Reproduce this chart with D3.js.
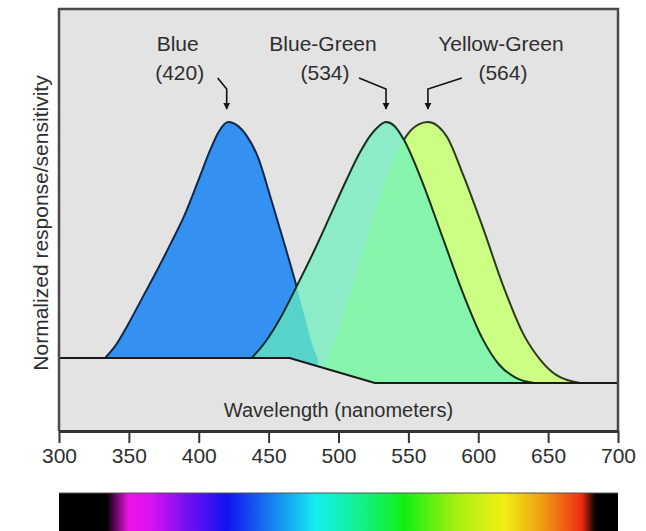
<!DOCTYPE html>
<html lang="en">
<head>
<meta charset="utf-8">
<title>Cone sensitivity</title>
<script src="https://cdn.jsdelivr.net/npm/d3@7"></script>
<style>
  body { margin: 0; background: #fff; }
  svg text { font-family: "Liberation Sans", Arial, sans-serif; fill: #2e2e2e; }
</style>
</head>
<body>
<script>
// cones and their peak wavelengths (nm)
const coneNames = ['Blue', 'Blue-Green', 'Yellow-Green'];
const conePeaks = [420, 534, 564];

// curves: [wavelength nm, normalized response]
const blueCurve = [[333,0.096],[340,0.14],[350,0.23],[360,0.33],[370,0.43],[380,0.535],[390,0.645],
  [400,0.78],[408,0.89],[414,0.96],[421,1.0],[428,0.985],[434,0.95],[442,0.87],[452,0.70],[462,0.52],
  [470,0.37],[477,0.23],[481,0.15],[485,0.096]];
const blueGreenCurve = [[438,0.096],[448,0.16],[458,0.245],[470,0.37],[482,0.50],[494,0.64],[505,0.77],
  [515,0.88],[523,0.95],[529,0.985],[534,1.0],[540,0.985],[547,0.93],[560,0.77],[575,0.55],[589,0.345],
  [603,0.17],[615,0.07],[627,0.02],[640,0]];
const yellowGreenCurve = [[490,0.057],[500,0.2],[510,0.37],[520,0.55],[530,0.72],[540,0.86],[549,0.95],
  [557,0.99],[564,1.0],[571,0.985],[578,0.94],[589,0.80],[603,0.60],[618,0.37],[632,0.19],[645,0.085],
  [656,0.03],[673,0]];
// the black base line under the curves
const baseline = [[300,0.096],[465,0.096],[526,0],[700,0]];

const xTicks = [300, 350, 400, 450, 500, 550, 600, 650, 700];

// visible spectrum strip: [wavelength, colour]
const spectrum = [[300,'#000'],[334,'#000'],[350,'#f012e6'],[366,'#d812f2'],[390,'#7a10f2'],[420,'#1212f0'],
  [450,'#1678f0'],[484,'#12f0f0'],[515,'#12f08c'],[548,'#12f012'],[585,'#a8f012'],[618,'#f0f012'],
  [645,'#f0a012'],[674,'#f02c12'],[684,'#000'],[700,'#000']];

const W = 646, H = 531;
const frame = {left: 59, right: 618, top: 9, bottom: 431};

const x = d3.scaleLinear().domain([300, 700]).range([frame.left, frame.right]);
const y = d3.scaleLinear().domain([0, 1]).range([383, 122]);
const baseAt = d3.scaleLinear().domain(baseline.map(d => d[0])).range(baseline.map(d => d[1]));

const svg = d3.select('body').append('svg')
    .attr('width', W).attr('height', H);

const defs = svg.append('defs');

const topLine = d3.line()
    .x(d => x(d[0]))
    .y(d => y(d[1]))
    .curve(d3.curveMonotoneX);

// curve on top, then back along the base line
function areaPath(pts) {
  const w0 = pts[0][0], w1 = pts[pts.length - 1][0];
  const back = [[w1, baseAt(w1)]]
      .concat(baseline.filter(b => b[0] > w0 && b[0] < w1).reverse())
      .concat([[w0, baseAt(w0)]]);
  return topLine(pts) + back.map(b => 'L' + x(b[0]) + ',' + y(b[1])).join('') + 'Z';
}

// plot background
svg.append('rect')
    .attr('x', frame.left).attr('y', frame.top)
    .attr('width', frame.right - frame.left).attr('height', frame.bottom - frame.top)
    .attr('fill', '#e3e3e3');

// mask so outlines under the blue-green fill disappear
const mask = defs.append('mask').attr('id', 'outsideBG')
    .attr('maskUnits', 'userSpaceOnUse').attr('x', 0).attr('y', 0).attr('width', W).attr('height', H);
mask.append('rect').attr('width', W).attr('height', H).attr('fill', '#fff');
mask.append('path').attr('d', areaPath(blueGreenCurve)).attr('fill', '#000');

// blue
svg.append('path').attr('d', areaPath(blueCurve)).attr('fill', '#3491f2');
svg.append('path').attr('d', topLine(blueCurve))
    .attr('fill', 'none').attr('stroke', '#10284a').attr('stroke-width', 2)
    .attr('mask', 'url(#outsideBG)');

// yellow-green
svg.append('path').attr('d', areaPath(yellowGreenCurve)).attr('fill', '#ccfe84');
svg.append('path').attr('d', topLine(yellowGreenCurve))
    .attr('fill', 'none').attr('stroke', '#2e3a1c').attr('stroke-width', 2)
    .attr('mask', 'url(#outsideBG)');

// blue-green, see-through
svg.append('path').attr('d', areaPath(blueGreenCurve))
    .attr('fill', '#68f0bc').attr('fill-opacity', 0.7);
svg.append('path').attr('d', topLine(blueGreenCurve))
    .attr('fill', 'none').attr('stroke', '#12301c').attr('stroke-width', 2);

// base line
svg.append('path')
    .attr('d', d3.line().x(d => x(d[0])).y(d => y(d[1]))(baseline))
    .attr('fill', 'none').attr('stroke', '#1a1a1a').attr('stroke-width', 2);

// frame
svg.append('path')
    .attr('d', `M${frame.left},${frame.bottom}V${frame.top}H${frame.right}V${frame.bottom}`)
    .attr('fill', 'none').attr('stroke', '#4a4a4a').attr('stroke-width', 2.5);

// x axis
const xAxis = svg.append('g')
    .attr('transform', `translate(0,${frame.bottom})`)
    .call(d3.axisBottom(x).tickValues(xTicks).tickSize(12).tickPadding(5).tickSizeOuter(0));
xAxis.select('.domain').attr('stroke', '#333').attr('stroke-width', 3);
xAxis.selectAll('.tick line').attr('stroke', '#333').attr('stroke-width', 2);
xAxis.selectAll('.tick text').attr('font-size', 21).attr('fill', '#2e2e2e')
    .style('font-family', '"Liberation Sans", Arial, sans-serif');

svg.append('text')
    .attr('x', (frame.left + frame.right) / 2).attr('y', 417)
    .attr('text-anchor', 'middle').attr('font-size', 20)
    .text('Wavelength (nanometers)');

svg.append('text')
    .attr('transform', 'translate(48,223) rotate(-90)')
    .attr('text-anchor', 'middle').attr('font-size', 21)
    .text('Normalized response/sensitivity');

// peak labels with bent arrows
defs.append('marker').attr('id', 'head')
    .attr('viewBox', '0 0 10 10').attr('refX', 9).attr('refY', 5)
    .attr('markerWidth', 4.5).attr('markerHeight', 4.5).attr('orient', 'auto')
    .append('path').attr('d', 'M0,0L10,5L0,10Z').attr('fill', '#111');

const labelShift = [-49, -63, 73];   // text centre relative to the peak
const arrowFrom = [-9, -27, 34];     // arrow start relative to the peak

coneNames.forEach((name, i) => {
  const px = x(conePeaks[i]);
  svg.append('text').attr('x', px + labelShift[i]).attr('y', 51)
      .attr('text-anchor', 'middle').attr('font-size', 21).text(name);
  svg.append('text').attr('x', px + labelShift[i] + 2).attr('y', 80)
      .attr('text-anchor', 'middle').attr('font-size', 21).text(`(${conePeaks[i]})`);
  svg.append('path')
      .attr('d', `M${px + arrowFrom[i]},78L${px},89V109`)
      .attr('fill', 'none').attr('stroke', '#111').attr('stroke-width', 1.6)
      .attr('marker-end', 'url(#head)');
});

// spectrum strip
const grad = defs.append('linearGradient').attr('id', 'spectrum')
    .attr('gradientUnits', 'userSpaceOnUse')
    .attr('x1', x(300)).attr('x2', x(700)).attr('y1', 0).attr('y2', 0);
grad.selectAll('stop').data(spectrum).join('stop')
    .attr('offset', d => (x(d[0]) - x(300)) / (x(700) - x(300)))
    .attr('stop-color', d => d[1]);

svg.append('rect')
    .attr('x', x(300)).attr('y', 493)
    .attr('width', x(700) - x(300)).attr('height', 45)
    .attr('fill', 'url(#spectrum)');
svg.append('line')
    .attr('x1', x(300)).attr('x2', x(700)).attr('y1', 493).attr('y2', 493)
    .attr('stroke', '#555').attr('stroke-width', 1);
</script>
</body>
</html>
